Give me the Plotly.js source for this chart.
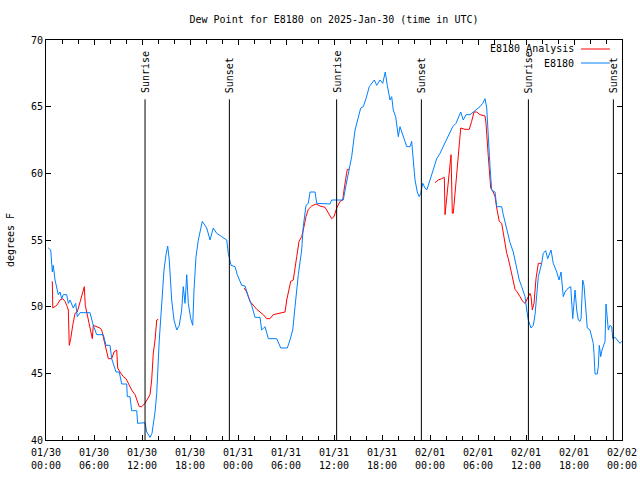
<!DOCTYPE html>
<html>
<head>
<meta charset="utf-8">
<script src="https://cdn.plot.ly/plotly-3.0.1.min.js"></script>
<style>html,body{margin:0;padding:0;background:#fff;}#chart{width:640px;height:480px;}</style>
</head>
<body>
<div id="chart"></div>
<script>
// Hours since 2025-01-30 00:00 UTC and dew point (deg F)
const stationHours = [0.29,0.59,0.79,0.91,1.13,1.54,1.75,1.96,2.16,2.59,2.79,3.0,3.41,3.71,3.91,4.25,5.5,5.91,6.34,7.16,7.5,8.0,8.21,8.75,9.16,9.46,10.09,10.16,10.5,10.71,11.34,11.46,12.38,12.59,13.0,13.25,13.63,13.84,14.16,14.46,14.75,15.0,15.21,15.41,15.71,16.0,16.34,16.66,16.96,17.16,17.38,17.59,17.79,18.09,18.34,18.5,18.75,19.04,19.54,20.09,20.5,20.91,21.34,21.96,22.59,22.79,23.13,23.63,23.91,24.46,24.88,25.29,25.71,26.13,26.75,26.96,27.38,27.79,28.84,29.34,30.16,30.5,30.84,31.13,31.54,31.96,32.16,32.5,32.79,33.0,33.63,33.84,35.5,35.71,37.16,37.5,37.79,38.21,38.63,39.04,39.34,39.66,40.0,40.41,40.71,41.04,41.34,41.75,42.09,42.41,42.66,43.0,43.21,43.41,43.71,44.04,44.25,44.46,44.75,45.09,45.5,45.71,45.91,46.13,46.41,46.66,46.84,47.09,47.38,47.59,48.0,48.41,48.84,49.25,49.66,50.09,50.41,50.84,51.25,51.54,51.84,52.16,52.5,53.0,53.41,53.84,54.25,54.59,54.88,55.09,55.29,55.5,55.71,56.13,56.34,56.96,57.16,57.5,58.0,58.41,58.63,58.91,59.16,59.46,59.88,60.09,60.29,60.63,60.91,61.13,61.34,61.54,61.96,62.16,62.46,62.71,63.13,63.41,63.84,64.13,64.38,64.66,64.88,65.29,65.59,65.84,66.13,66.34,66.54,66.75,66.88,67.09,67.25,67.5,67.66,68.0,68.21,68.41,68.5,68.63,68.91,69.04,69.16,69.34,69.5,69.66,69.88,70.0,70.16,70.29,70.5,70.71,70.84,71.13,71.75,71.96];
const stationDew = [54.4,54.25,52.6,53.1,52.0,50.9,51.1,50.6,50.9,50.9,50.25,50.5,49.9,50.25,49.25,49.55,49.55,48.6,47.9,47.9,47.1,47.1,46.1,45.1,45.1,44.2,44.2,43.25,43.25,42.2,42.2,41.25,41.3,40.6,40.2,40.5,42.1,43.5,47.5,50.1,52.75,53.9,54.55,53.5,50.5,49.0,48.25,48.6,49.75,51.5,50.25,52.4,50.25,49.1,48.6,51.25,53.75,55.0,56.4,55.9,55.0,55.9,55.5,55.25,55.0,54.0,53.1,53.0,52.4,51.6,51.55,50.75,50.1,49.2,49.2,48.25,48.5,47.6,47.6,46.9,46.9,47.5,48.25,50.0,52.4,54.25,56.0,57.6,57.75,58.6,58.6,57.75,57.7,58.0,58.0,59.1,60.0,61.25,63.25,64.25,64.9,65.0,65.6,66.5,66.75,67.0,66.6,67.0,66.75,67.6,66.6,65.5,65.75,64.75,64.25,62.75,63.5,63.1,62.6,62.0,62.0,62.4,61.0,59.5,58.6,58.25,58.5,59.25,58.9,58.75,59.5,60.25,61.1,61.5,62.0,62.6,63.0,63.5,63.75,64.25,64.6,64.0,64.4,64.4,64.6,64.75,65.0,65.25,65.6,64.9,62.5,60.5,58.75,58.6,57.5,57.5,56.9,56.1,54.8,54.1,53.4,52.6,52.0,51.5,50.75,49.75,49.0,48.4,48.6,49.4,50.75,52.25,53.25,54.0,54.2,53.6,54.25,53.25,52.6,52.0,52.6,50.75,51.1,51.4,51.5,49.1,51.25,49.75,49.0,48.9,49.1,52.0,51.6,49.75,48.4,48.25,47.75,47.25,46.5,44.95,44.95,45.5,47.1,46.25,46.75,47.1,47.4,50.2,49.0,48.25,48.6,48.5,47.6,47.7,47.25,47.4];

const analysisHours = [0.79,0.85,1.34,1.75,2.09,2.38,2.66,2.79,2.91,3.09,3.34,3.63,3.91,4.25,4.59,4.79,4.91,5.21,5.5,5.79,5.91,6.25,6.75,6.96,7.38,7.79,8.21,8.5,8.84,8.96,9.25,9.66,10.0,10.29,10.71,11.13,11.66,11.96,12.38,13.0,13.21,13.41,13.63,13.84,14.04,19.0,24.75,25.09,25.5,25.91,26.34,26.75,27.16,27.59,28.0,28.41,29.04,29.46,29.88,30.09,30.38,30.59,30.91,31.13,31.34,31.63,31.96,32.16,32.5,32.79,33.21,33.75,34.25,34.88,35.29,35.71,36.0,36.34,36.75,37.09,37.29,37.5,37.66,37.91,43.0,48.63,49.04,49.46,49.79,49.88,50.09,50.29,50.5,50.63,50.79,50.91,51.13,51.34,51.54,51.66,51.84,52.38,52.91,53.21,53.5,53.84,54.25,54.88,55.0,55.29,55.41,55.59,55.91,56.13,56.34,56.66,56.96,57.16,57.38,57.59,57.79,58.0,58.29,58.63,58.91,59.25,59.59,59.88,60.16,60.5,60.63,60.79,61.0,61.25,61.54,61.96];
const analysisDew = [51.9,49.9,50.1,50.5,50.6,50.4,50.0,49.75,47.1,47.6,48.6,49.5,49.6,50.4,51.0,51.5,50.1,49.25,48.4,47.6,48.6,48.5,48.4,48.25,47.25,46.1,46.1,46.6,46.75,45.4,45.1,44.75,44.6,44.25,43.75,43.4,42.5,42.5,42.75,43.4,44.5,46.5,47.5,49.0,49.05,null,51.4,51.1,50.4,50.1,49.8,49.6,49.4,49.1,49.1,49.4,49.5,49.55,49.6,50.5,51.5,51.9,52.0,52.75,53.75,54.9,55.25,55.75,56.75,57.3,57.55,57.7,57.55,57.45,57.0,56.6,56.75,57.4,57.9,58.0,58.9,59.75,60.3,60.3,null,59.3,59.5,59.6,59.7,56.9,58.1,59.5,60.25,61.4,57.0,57.0,58.5,60.0,61.1,62.1,63.4,63.3,63.3,63.9,64.6,64.6,64.4,64.3,63.75,61.25,60.1,58.9,58.6,58.25,57.4,56.4,56.25,55.5,54.75,54.0,53.6,52.9,52.25,51.3,51.1,50.75,50.4,50.25,50.6,51.0,50.75,49.75,50.25,52.1,53.25,53.25];

const sunEventHours = [12.38, 22.92, 36.33, 46.92, 60.3, 70.92];
const sunEventLabels = ["Sunrise", "Sunset", "Sunrise", "Sunset", "Sunrise", "Sunset"];

const seriesNames = ["E8180 Analysis", "E8180"];
const seriesColors = ["#ff0000", "#0080ff"];

const baseMs = Date.UTC(2025, 0, 30, 0, 0, 0);
function toDate(h) {
  return new Date(baseMs + h * 3600000).toISOString().replace('T', ' ').slice(0, 19);
}

const FONT = "DejaVu Sans Mono, monospace";

const traces = [
  {x: analysisHours.map(toDate), y: analysisDew, name: seriesNames[0], type: 'scatter', mode: 'lines',
   line: {color: seriesColors[0], width: 1}, connectgaps: false, showlegend: false},
  {x: stationHours.map(toDate), y: stationDew, name: seriesNames[1], type: 'scatter', mode: 'lines',
   line: {color: seriesColors[1], width: 1}, showlegend: false}
];

const shapes = [];
const annotations = [];
sunEventHours.forEach((h, i) => {
  shapes.push({type: 'line', xref: 'x', yref: 'y', x0: toDate(h), x1: toDate(h), y0: 40, y1: 65.55,
    line: {color: '#000', width: 1}});
  annotations.push({xref: 'x', yref: 'y', x: toDate(h), y: 65.95, text: sunEventLabels[i],
    textangle: -90, showarrow: false, xanchor: 'center', yanchor: 'bottom',
    font: {family: FONT, size: 10, color: '#000'}, borderpad: 0});
});

// gnuplot-style legend (text then sample line)
const legY = [0.9775, 0.9425];
seriesNames.forEach((n, i) => {
  annotations.push({xref: 'paper', yref: 'paper', x: 0.919, y: legY[i], text: n, showarrow: false,
    xanchor: 'right', yanchor: 'middle', font: {family: FONT, size: 10, color: '#000'}, borderpad: 0});
  shapes.push({type: 'line', xref: 'paper', yref: 'paper', x0: 0.9288, x1: 0.979, y0: legY[i], y1: legY[i],
    line: {color: seriesColors[i], width: 1}});
});

const layout = {
  width: 640, height: 480,
  margin: {l: 46, r: 18, t: 40, b: 40, pad: 0},
  paper_bgcolor: '#fff', plot_bgcolor: '#fff',
  font: {family: FONT, size: 10, color: '#000'},
  title: {text: 'Dew Point for E8180 on 2025-Jan-30 (time in UTC)', x: 0.5, xref: 'paper',
    y: 1 - 19 / 480, yanchor: 'middle', font: {family: FONT, size: 10, color: '#000'}},
  showlegend: false,
  xaxis: {type: 'date', range: [toDate(0), toDate(72)], dtick: 6 * 3600000, tick0: toDate(0),
    tickformat: '%m/%d<br>%H:%M', ticks: 'inside', ticklen: 5, tickcolor: '#000',
    ticklabelstandoff: 3,
    showline: true, linecolor: '#000', linewidth: 1, mirror: 'ticks', showgrid: false, zeroline: false,
    minor: {dtick: 2 * 3600000, ticks: 'inside', ticklen: 4, tickcolor: '#000', showgrid: false},
    tickfont: {family: FONT, size: 10, color: '#000'}},
  yaxis: {range: [40, 70], dtick: 5, tick0: 40, ticks: 'inside', ticklen: 5, tickcolor: '#000',
    showline: true, linecolor: '#000', linewidth: 1, mirror: 'ticks', showgrid: false, zeroline: false,
    tickfont: {family: FONT, size: 10, color: '#000'},
    title: {text: 'degrees F', standoff: 14, font: {family: FONT, size: 10, color: '#000'}}},
  shapes: shapes,
  annotations: annotations
};

Plotly.newPlot('chart', traces, layout, {displayModeBar: false, staticPlot: true});
</script>
</body>
</html>
